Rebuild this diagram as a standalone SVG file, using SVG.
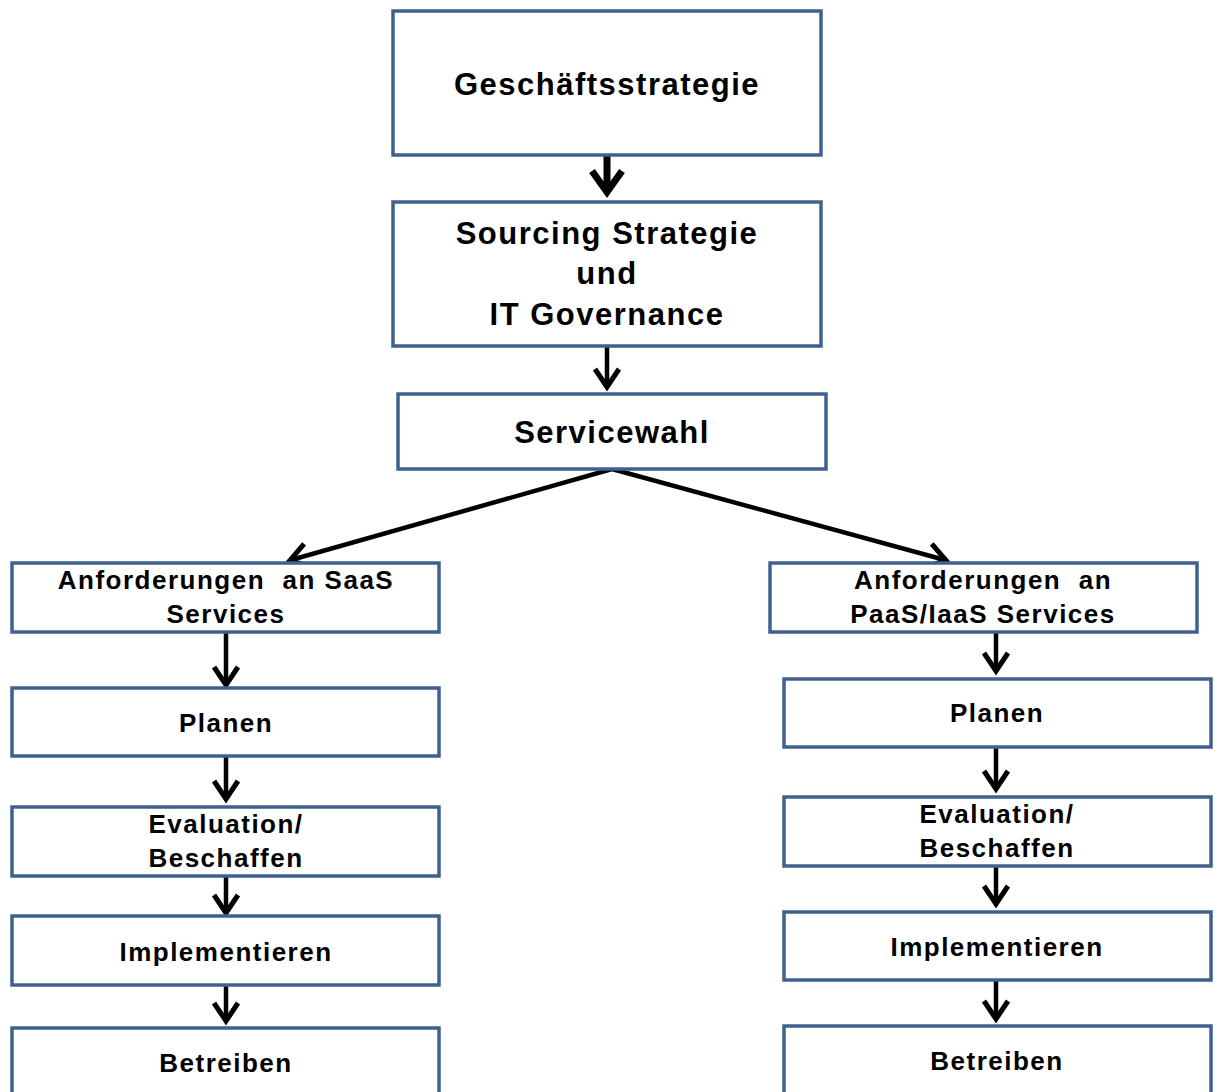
<svg xmlns="http://www.w3.org/2000/svg" width="1215" height="1092" viewBox="0 0 1215 1092">
<style>
.box{fill:#fff;stroke:#3f6190;stroke-width:3.5}
.t1{font-family:"Liberation Sans",Arial,sans-serif;font-weight:bold;font-size:31px;letter-spacing:1.5px;fill:#000;text-anchor:middle}
.t2{font-family:"Liberation Sans",Arial,sans-serif;font-weight:bold;font-size:26px;letter-spacing:1.5px;fill:#000;text-anchor:middle}
.c{stroke:#000;stroke-width:4.5;fill:none;marker-end:url(#ah)}
.cb{stroke:#000;stroke-width:7;fill:none;marker-end:url(#ahb)}
</style>
<defs>
<marker id="ah" markerUnits="userSpaceOnUse" viewBox="0 0 26 32" markerWidth="26" markerHeight="32" refX="19" refY="15" orient="auto">
<path d="M2,3 L20,15 L2,27" fill="none" stroke="#000" stroke-width="5"/>
</marker>
<marker id="ahb" markerUnits="userSpaceOnUse" viewBox="0 0 32 38" markerWidth="32" markerHeight="38" refX="23" refY="18" orient="auto">
<path d="M3,3 L24,18 L3,33" fill="none" stroke="#000" stroke-width="7"/>
</marker>
</defs>
<rect width="1215" height="1092" fill="#fff"/>
<g id="connectors">
<line class="cb" x1="607" y1="155" x2="607" y2="191"/>
<line class="c" x1="607" y1="346" x2="607" y2="386"/>
<line class="c" x1="612" y1="469" x2="291" y2="560"/>
<line class="c" x1="612" y1="469" x2="945" y2="560"/>
<line class="c" x1="226" y1="632" x2="226" y2="684"/>
<line class="c" x1="226" y1="756" x2="226" y2="798"/>
<line class="c" x1="226" y1="876" x2="226" y2="912"/>
<line class="c" x1="226" y1="985" x2="226" y2="1020"/>
<line class="c" x1="996" y1="632" x2="996" y2="670"/>
<line class="c" x1="996" y1="747" x2="996" y2="788"/>
<line class="c" x1="996" y1="866" x2="996" y2="903"/>
<line class="c" x1="996" y1="980" x2="996" y2="1018"/>
</g>
<g id="n1"><rect class="box" x="393" y="11" width="428" height="144"/><text class="t1" x="607" y="95">Geschäftsstrategie</text></g>
<g id="n2"><rect class="box" x="393" y="202" width="428" height="144"/><text class="t1" x="607" y="244">Sourcing Strategie</text><text class="t1" x="607" y="284">und</text><text class="t1" x="607" y="325">IT Governance</text></g>
<g id="n3"><rect class="box" x="398" y="394" width="428" height="75"/><text class="t1" x="612" y="443">Servicewahl</text></g>
<g id="l1"><rect class="box" x="12" y="563" width="427" height="69"/><text class="t2" x="226" y="589">Anforderungen&#160; an SaaS</text><text class="t2" x="226" y="623">Services</text></g>
<g id="l2"><rect class="box" x="12" y="688" width="427" height="68"/><text class="t2" x="226" y="732">Planen</text></g>
<g id="l3"><rect class="box" x="12" y="807" width="427" height="69"/><text class="t2" x="226" y="833">Evaluation/</text><text class="t2" x="226" y="867">Beschaffen</text></g>
<g id="l4"><rect class="box" x="12" y="916" width="427" height="69"/><text class="t2" x="226" y="961">Implementieren</text></g>
<g id="l5"><rect class="box" x="12" y="1028" width="427" height="70"/><text class="t2" x="226" y="1072">Betreiben</text></g>
<g id="r1"><rect class="box" x="770" y="563" width="427" height="69"/><text class="t2" x="983" y="589">Anforderungen&#160; an</text><text class="t2" x="983" y="623">PaaS/IaaS Services</text></g>
<g id="r2"><rect class="box" x="784" y="679" width="427" height="68"/><text class="t2" x="997" y="722">Planen</text></g>
<g id="r3"><rect class="box" x="784" y="797" width="427" height="69"/><text class="t2" x="997" y="823">Evaluation/</text><text class="t2" x="997" y="857">Beschaffen</text></g>
<g id="r4"><rect class="box" x="784" y="912" width="427" height="68"/><text class="t2" x="997" y="956">Implementieren</text></g>
<g id="r5"><rect class="box" x="784" y="1026" width="427" height="72"/><text class="t2" x="997" y="1070">Betreiben</text></g>
</svg>
